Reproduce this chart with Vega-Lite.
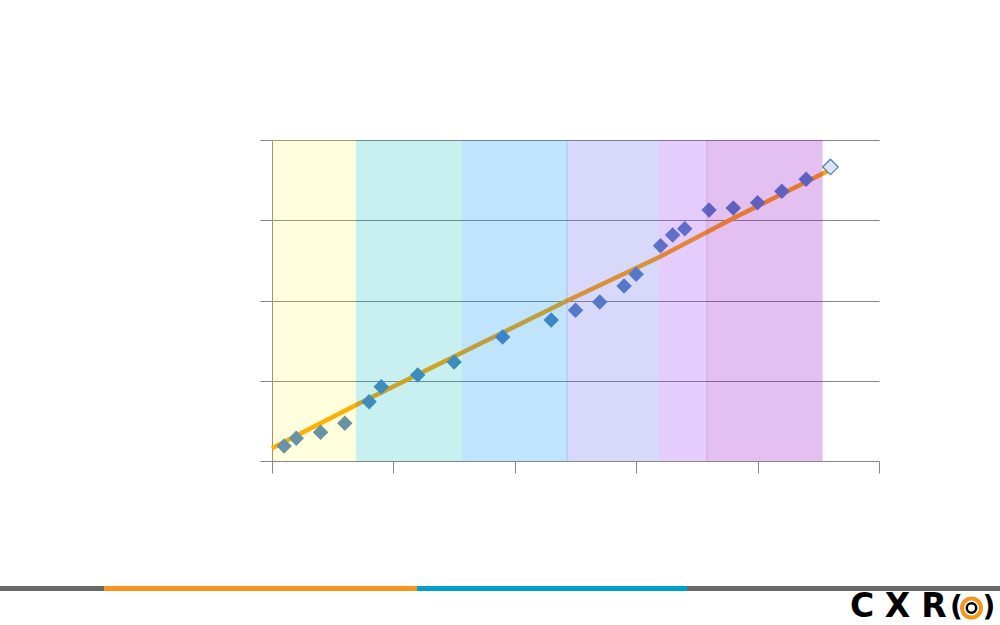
{
  "$schema": "https://vega.github.io/schema/vega-lite/v6.json",
  "background": "white",
  "padding": {"left": 0, "top": 139, "right": 0, "bottom": 0},
  "spacing": 110,
  "resolve": {"scale": {"color": "independent"}},
  "config": {
    "view": {"stroke": null},
    "axis": {"minExtent": 0, "maxExtent": 200}
  },
  "datasets": {
    "observations": [
      {"t": 1, "value": 0.187, "kind": "actual"},
      {"t": 2, "value": 0.283, "kind": "actual"},
      {"t": 4, "value": 0.358, "kind": "actual"},
      {"t": 6, "value": 0.47, "kind": "actual"},
      {"t": 8, "value": 0.739, "kind": "actual"},
      {"t": 9, "value": 0.926, "kind": "actual"},
      {"t": 12, "value": 1.072, "kind": "actual"},
      {"t": 15, "value": 1.234, "kind": "actual"},
      {"t": 19, "value": 1.545, "kind": "actual"},
      {"t": 23, "value": 1.757, "kind": "actual"},
      {"t": 25, "value": 1.878, "kind": "actual"},
      {"t": 27, "value": 1.981, "kind": "actual"},
      {"t": 29, "value": 2.181, "kind": "actual"},
      {"t": 30, "value": 2.327, "kind": "actual"},
      {"t": 32, "value": 2.683, "kind": "actual"},
      {"t": 33, "value": 2.816, "kind": "actual"},
      {"t": 34, "value": 2.895, "kind": "actual"},
      {"t": 36, "value": 3.128, "kind": "actual"},
      {"t": 38, "value": 3.153, "kind": "actual"},
      {"t": 40, "value": 3.219, "kind": "actual"},
      {"t": 42, "value": 3.361, "kind": "actual"},
      {"t": 44, "value": 3.51, "kind": "actual"},
      {"t": 46, "value": 3.664, "kind": "forecast"}
    ],
    "trend": [
      {"t": 0, "value": 0.158},
      {"t": 6.92, "value": 0.698},
      {"t": 24.27, "value": 1.994},
      {"t": 31.96, "value": 2.546},
      {"t": 38.0, "value": 3.024},
      {"t": 46.0, "value": 3.63}
    ],
    "bands": [
      {"band": "Era 1", "start": 0, "end": 6.92},
      {"band": "Era 2", "start": 6.92, "end": 15.65},
      {"band": "Era 3", "start": 15.65, "end": 24.35},
      {"band": "Era 4", "start": 24.27, "end": 31.9},
      {"band": "Era 5", "start": 31.9, "end": 35.87},
      {"band": "Era 6", "start": 35.8, "end": 45.36}
    ],
    "strip": [
      {"segment": "grey left", "from": 0, "to": 104, "top": 2, "bottom": 7},
      {"segment": "orange", "from": 104, "to": 417, "top": 2, "bottom": 7},
      {"segment": "blue", "from": 417, "to": 687, "top": 2, "bottom": 7},
      {"segment": "grey right", "from": 687, "to": 1000, "top": 2, "bottom": 7}
    ],
    "logo": [
      {"glyph": "C", "pos": 862, "base": 33},
      {"glyph": "X", "pos": 897.5, "base": 33},
      {"glyph": "R", "pos": 934, "base": 33}
    ],
    "parens": [
      {"glyph": "(", "pos": 956.5, "mid": 24},
      {"glyph": ")", "pos": 989, "mid": 24}
    ],
    "rings": [
      {"ring": "outer", "pos": 971.5, "mid": 24},
      {"ring": "inner", "pos": 971.5, "mid": 24}
    ]
  },
  "vconcat": [
    {
      "spacing": 0,
      "hconcat": [
        {
          "width": 259,
          "height": 321,
          "data": {"values": []},
          "mark": "rule",
          "encoding": {}
        },
        {
          "width": 607,
          "height": 321,
          "layer": [
            {
              "data": {"name": "trend"},
              "mark": {"type": "line", "color": "#FFA000", "strokeWidth": 4.5, "strokeCap": "butt"},
              "encoding": {
                "x": {
                  "field": "t", "type": "quantitative",
                  "scale": {"domain": [0, 50], "nice": false, "zero": false},
                  "axis": {
                    "values": [0, 10, 20, 30, 40, 50], "labels": false, "title": null,
                    "ticks": true, "tickSize": 12, "tickColor": "#868686", "tickWidth": 1,
                    "domainColor": "#868686", "domainWidth": 1, "grid": false
                  }
                },
                "y": {
                  "field": "value", "type": "quantitative",
                  "scale": {"domain": [0, 4], "nice": false, "zero": false},
                  "axis": {
                    "values": [0, 1, 2, 3, 4], "labels": false, "title": null,
                    "ticks": true, "tickSize": 12, "tickColor": "#868686", "tickWidth": 1,
                    "domainColor": "#868686", "domainWidth": 1,
                    "grid": true, "gridColor": "#868686", "gridWidth": 1
                  }
                }
              }
            },
            {
              "data": {"name": "observations"},
              "transform": [{"filter": "datum.kind === 'actual'"}],
              "mark": {"type": "point", "shape": "diamond", "filled": true, "color": "#4F81BD", "opacity": 1, "size": 240},
              "encoding": {
                "x": {"field": "t", "type": "quantitative"},
                "y": {"field": "value", "type": "quantitative"}
              }
            },
            {
              "data": {"name": "observations"},
              "transform": [{"filter": "datum.kind === 'forecast'"}],
              "mark": {"type": "point", "shape": "diamond", "filled": true, "fill": "#DCE6F2", "stroke": "#4F81BD", "strokeWidth": 1.2, "opacity": 1, "size": 240},
              "encoding": {
                "x": {"field": "t", "type": "quantitative"},
                "y": {"field": "value", "type": "quantitative"}
              }
            },
            {
              "data": {"name": "bands"},
              "mark": {"type": "rect"},
              "encoding": {
                "x": {"field": "start", "type": "quantitative"},
                "x2": {"field": "end"},
                "color": {
                  "field": "band", "type": "nominal", "legend": null,
                  "scale": {
                    "domain": ["Era 1", "Era 2", "Era 3", "Era 4", "Era 5", "Era 6"],
                    "range": ["rgba(255,255,30,0.15)", "rgba(0,183,183,0.21)", "rgba(3,147,243,0.25)", "rgba(99,99,235,0.25)", "rgba(147,51,243,0.25)", "rgba(147,3,195,0.25)"]
                  }
                }
              }
            }
          ]
        }
      ]
    },
    {
      "width": 1000,
      "height": 41,
      "layer": [
        {
          "data": {"name": "strip"},
          "mark": {"type": "rect"},
          "encoding": {
            "x": {"field": "from", "type": "quantitative", "scale": {"domain": [0, 1000], "nice": false, "zero": false}, "axis": null},
            "x2": {"field": "to"},
            "y": {"field": "top", "type": "quantitative", "scale": {"domain": [0, 41], "reverse": true, "nice": false, "zero": false}, "axis": null},
            "y2": {"field": "bottom"},
            "color": {
              "field": "segment", "type": "nominal", "legend": null,
              "scale": {"domain": ["grey left", "orange", "blue", "grey right"], "range": ["#686868", "#F7941D", "#00A1C9", "#686868"]}
            }
          }
        },
        {
          "data": {"name": "logo"},
          "mark": {"type": "text", "font": "DejaVu Sans", "fontWeight": "bold", "fontSize": 33, "align": "center", "baseline": "alphabetic", "color": "#000000"},
          "encoding": {
            "x": {"field": "pos", "type": "quantitative"},
            "y": {"field": "base", "type": "quantitative"},
            "text": {"field": "glyph"}
          }
        },
        {
          "data": {"name": "parens"},
          "mark": {"type": "text", "font": "DejaVu Sans", "fontWeight": "bold", "fontSize": 28, "align": "center", "baseline": "middle", "color": "#000000"},
          "encoding": {
            "x": {"field": "pos", "type": "quantitative"},
            "y": {"field": "mid", "type": "quantitative"},
            "text": {"field": "glyph"}
          }
        },
        {
          "data": {"name": "rings"},
          "transform": [{"filter": "datum.ring === 'outer'"}],
          "mark": {"type": "point", "shape": "circle", "filled": false, "stroke": "#F7941D", "strokeWidth": 4, "opacity": 1, "size": 361},
          "encoding": {
            "x": {"field": "pos", "type": "quantitative"},
            "y": {"field": "mid", "type": "quantitative"}
          }
        },
        {
          "data": {"name": "rings"},
          "transform": [{"filter": "datum.ring === 'inner'"}],
          "mark": {"type": "point", "shape": "circle", "filled": false, "stroke": "#000000", "strokeWidth": 2.5, "opacity": 1, "size": 90},
          "encoding": {
            "x": {"field": "pos", "type": "quantitative"},
            "y": {"field": "mid", "type": "quantitative"}
          }
        }
      ]
    }
  ]
}
